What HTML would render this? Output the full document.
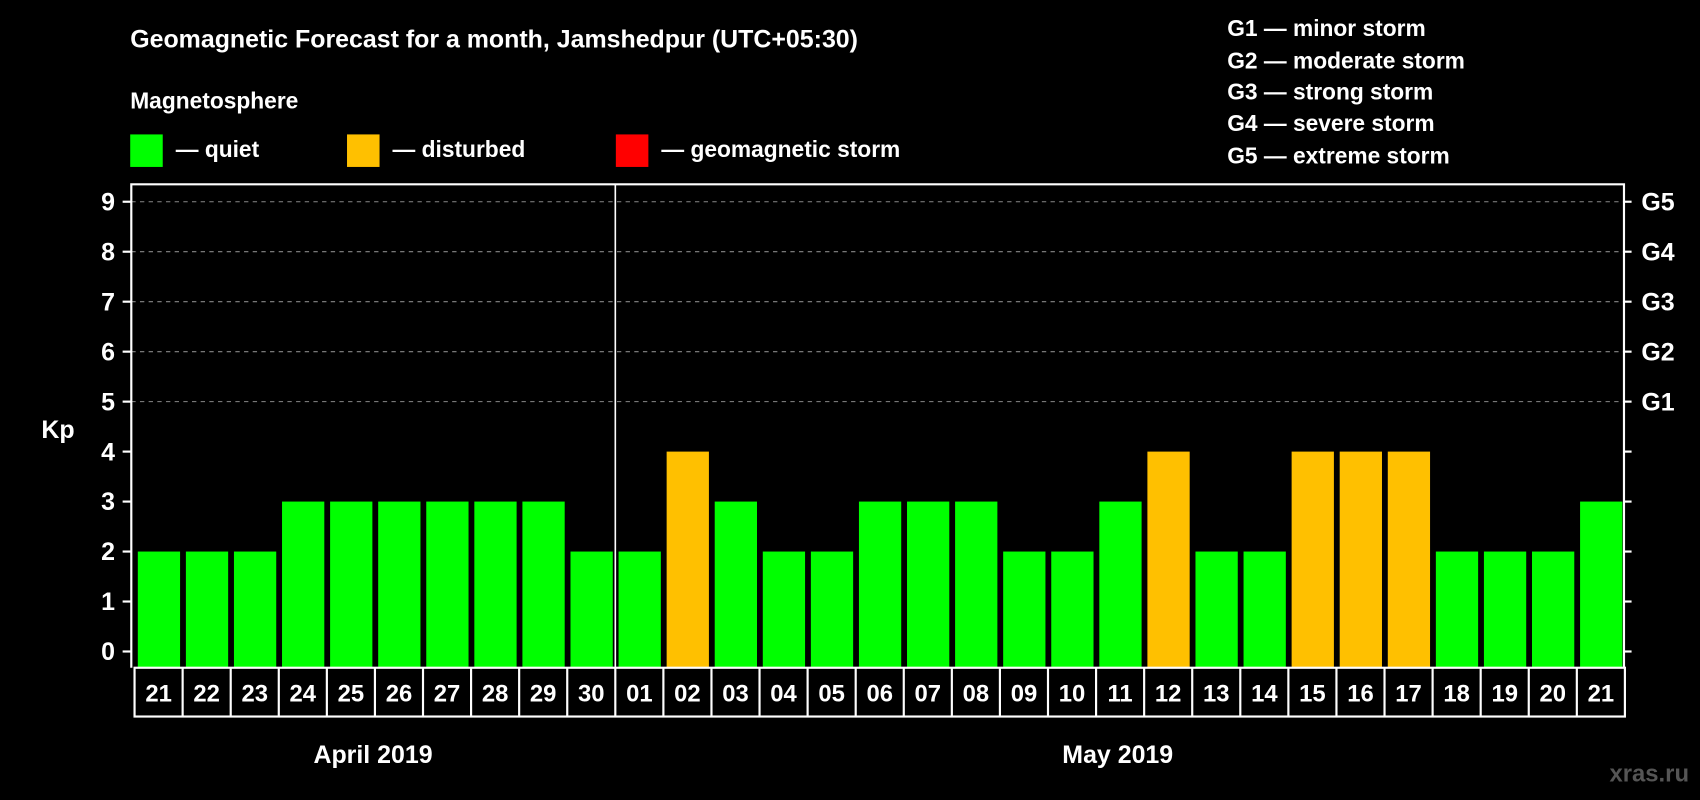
<!DOCTYPE html>
<html><head><meta charset="utf-8"><style>
html,body{margin:0;padding:0;background:#000;}
svg{display:block;font-family:"Liberation Sans",Arial,sans-serif;font-weight:bold;}
</style></head><body>
<svg id="chart" width="1700" height="800" viewBox="0 0 1568 738" xmlns="http://www.w3.org/2000/svg">
<rect width="1568" height="738" fill="#000"/>
<text x="120" y="44" fill="#fff" font-size="23">Geomagnetic Forecast for a month, Jamshedpur (UTC+05:30)</text>
<text x="120" y="100" fill="#fff" font-size="21">Magnetosphere</text>
<g><rect x="120" y="124" width="30" height="30" fill="#00ff00"/><text x="162" y="145" fill="#fff" font-size="21">— quiet</text></g>
<g><rect x="320" y="124" width="30" height="30" fill="#ffc000"/><text x="362" y="145" fill="#fff" font-size="21">— disturbed</text></g>
<g><rect x="568" y="124" width="30" height="30" fill="#ff0000"/><text x="610" y="145" fill="#fff" font-size="21">— geomagnetic storm</text></g>
<g fill="#fff" font-size="21">
<text x="1132" y="33">G1 — minor storm</text>
<text x="1132" y="63">G2 — moderate storm</text>
<text x="1132" y="92">G3 — strong storm</text>
<text x="1132" y="121">G4 — severe storm</text>
<text x="1132" y="151">G5 — extreme storm</text>
</g>
<text x="38" y="404" fill="#fff" font-size="23">Kp</text>
<g id="grid"></g>
<g id="bars"></g>
<g id="axes"></g>
<text x="344" y="704" fill="#fff" font-size="23" text-anchor="middle">April 2019</text>
<text x="1031" y="704" fill="#fff" font-size="23" text-anchor="middle">May 2019</text>
<text x="1558" y="721" fill="#555" font-size="22" text-anchor="end">xras.ru</text>
</svg>
<script>
const days = ["21","22","23","24","25","26","27","28","29","30","01","02","03","04","05","06","07","08","09","10","11","12","13","14","15","16","17","18","19","20","21"];
const kpValues = [2,2,2,3,3,3,3,3,3,2,2,4,3,2,2,3,3,3,2,2,3,4,2,2,4,4,4,2,2,2,3];
const yTicks = [0,1,2,3,4,5,6,7,8,9];
const gLabels = ["","","","","","G1","G2","G3","G4","G5"];
const NS="http://www.w3.org/2000/svg";
const L=121,R=1498,T=170,B=616,slot0=124,slotW=44.35;
function y(v){return 601-v*46.1;}
function x(i){return slot0+i*slotW;}
function mk(tag,attrs,parent){const e=document.createElementNS(NS,tag);for(const k in attrs)e.setAttribute(k,attrs[k]);parent.appendChild(e);return e;}
const grid=document.getElementById('grid'),bars=document.getElementById('bars'),axes=document.getElementById('axes');
yTicks.forEach((v,i)=>{
  if(v>=5){const g=mk('line',{x1:L,x2:R,y1:y(v),y2:y(v),stroke:'#888','stroke-dasharray':'4,4','stroke-width':1},grid);
  
  }
  const t=mk('line',{x1:L-8,x2:L,y1:y(v),y2:y(v),stroke:'#fff','stroke-width':2},axes);
  
  
  const t2=mk('line',{x1:R,x2:R+7,y1:y(v),y2:y(v),stroke:'#fff','stroke-width':2},axes);
  
  
  const lb=mk('text',{x:106,y:y(v)+8,fill:'#fff','font-size':23,'text-anchor':'end'},axes);lb.textContent=v;
  
  
  if(gLabels[i]){const gl=mk('text',{x:1514,y:y(v)+8,fill:'#fff','font-size':23},axes);gl.textContent=gLabels[i];
  
  }
});
kpValues.forEach((v,i)=>{
  const c=v>=5?'#ff0000':(v>=4?'#ffc000':'#00ff00');
  const b=mk('rect',{x:x(i)+3,y:y(v),width:39,height:B-y(v),fill:c},bars);
  
  
  const lb=mk('text',{x:x(i)+slotW/2,y:647,fill:'#fff','font-size':22,'text-anchor':'middle'},axes);lb.textContent=days[i];
  
  
  if(i>0){const d=mk('line',{x1:x(i),x2:x(i),y1:B,y2:661,stroke:'#fff','stroke-width':2},axes);
  
  }
});
const fr=mk('path',{d:`M${L} ${B} V${T} H${R} V${B}`,fill:'none',stroke:'#fff','stroke-width':2},axes);


const rb=mk('rect',{x:slot0,y:B,width:slotW*31,height:45,fill:'none',stroke:'#fff','stroke-width':2},axes);


const md=mk('line',{x1:x(10),x2:x(10),y1:T,y2:B,stroke:'#fff','stroke-width':1.5},axes);


</script>
</body></html>
